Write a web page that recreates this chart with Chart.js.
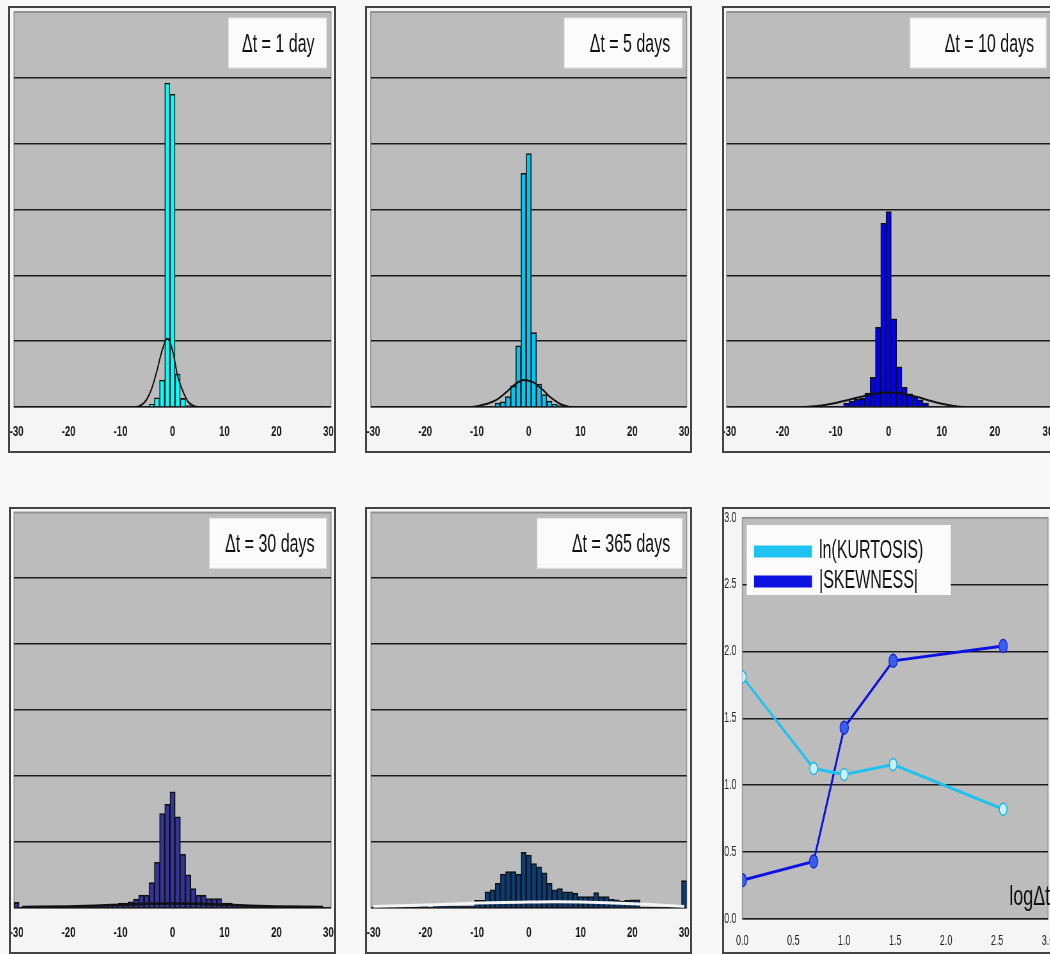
<!DOCTYPE html>
<html>
<head>
<meta charset="utf-8">
<script src="https://cdn.jsdelivr.net/npm/chart.js@4.4.1/dist/chart.umd.min.js"></script>
<style>
  html, body { margin: 0; padding: 0; width: 1050px; height: 954px; overflow: hidden; background: #f8f8f8; }
  .panel { position: absolute; box-sizing: border-box; border: 2px solid #444; background: #f5f5f5; overflow: hidden; }
  .panel canvas { position: absolute; left: 0; top: 0; transform-origin: 0 0; }
  #p1 { left: 8px; top: 6px; width: 328px; height: 447px; }
  #p2 { left: 365px; top: 6px; width: 327px; height: 447px; }
  #p3 { left: 722px; top: 6px; width: 340px; height: 447px; }
  #p4 { left: 9px; top: 507px; width: 327px; height: 447px; }
  #p5 { left: 365px; top: 507px; width: 327px; height: 447px; }
  #p6 { left: 722px; top: 507px; width: 340px; height: 447px; }
</style>
</head>
<body>
<div class="panel" id="p1"><canvas></canvas></div>
<div class="panel" id="p2"><canvas></canvas></div>
<div class="panel" id="p3"><canvas></canvas></div>
<div class="panel" id="p4"><canvas></canvas></div>
<div class="panel" id="p5"><canvas></canvas></div>
<div class="panel" id="p6"><canvas></canvas></div>
<script>
var FONT = "'Liberation Sans', Arial, sans-serif";
var SQUASH = 0.64; // the original plots are narrow, everything is drawn wide then squeezed

// histograms: bin centres (%), bar heights in grid divisions, fitted normal curve
var histTicks = [-30, -20, -10, 0, 10, 20, 30];
var gridSteps = [0, 1, 2, 3, 4, 5, 6];

var bins1 = [-4, -3, -2, -1, 0, 1, 2, 3];
var freq1 = [0.04, 0.14, 0.41, 4.92, 4.75, 0.50, 0.13, 0.02];
var fitX1 = [-29, -7, -6, -5, -4, -3, -2, -1, 0, 1, 2, 3, 4, 5, 29];
var fitY1 = [0, 0, 0.03, 0.11, 0.28, 0.55, 0.86, 1.04, 0.86, 0.47, 0.24, 0.08, 0.02, 0, 0];

var bins2 = [-6, -5, -4, -3, -2, -1, 0, 1, 2, 3, 4, 5, 6];
var freq2 = [0.06, 0.08, 0.16, 0.32, 0.93, 3.55, 3.85, 1.13, 0.35, 0.19, 0.09, 0.04, 0.02];
var fitX2 = [-29, -11, -10, -9, -8, -7, -6, -5, -4, -3, -2, -1, 0, 1, 2, 3, 4, 5, 6, 7, 8, 29];
var fitY2 = [0, 0, 0.01, 0.03, 0.05, 0.08, 0.12, 0.18, 0.25, 0.32, 0.38, 0.41, 0.40, 0.37, 0.31, 0.24, 0.16, 0.10, 0.05, 0.02, 0, 0];

var bins3 = [-8, -7, -6, -5, -4, -3, -2, -1, 0, 1, 2, 3, 4, 5, 6, 7];
var freq3 = [0.06, 0.09, 0.12, 0.13, 0.21, 0.45, 1.21, 2.79, 2.97, 1.34, 0.61, 0.30, 0.20, 0.16, 0.11, 0.06];
var fitX3 = [-29, -16, -14, -12, -10, -8, -6, -4, -2, 0, 2, 4, 6, 8, 10, 12, 14, 29];
var fitY3 = [0, 0, 0.01, 0.03, 0.06, 0.10, 0.14, 0.18, 0.21, 0.22, 0.21, 0.18, 0.14, 0.09, 0.05, 0.02, 0, 0];

var bins4 = [-30, -25, -24, -23, -22, -21, -20, -19, -18, -17, -16, -15, -14, -13, -12, -11,
             -10, -9, -8, -7, -6, -5, -4, -3, -2, -1, 0, 1, 2, 3, 4, 5, 6, 7, 8, 9,
             10, 11, 12, 13, 14, 15, 16, 17, 18];
var freq4 = [0.08, 0.01, 0.01, 0.01, 0.01, 0.01, 0.01, 0.01, 0.01, 0.015, 0.015, 0.02, 0.02, 0.03, 0.03, 0.04,
             0.07, 0.07, 0.09, 0.13, 0.19, 0.19, 0.38, 0.69, 1.43, 1.57, 1.76, 1.38, 0.81, 0.50, 0.29, 0.19, 0.19, 0.14, 0.14, 0.14,
             0.07, 0.07, 0.04, 0.04, 0.02, 0.02, 0.01, 0.01, 0.01];
var fitX4 = [-29, -20, -15, -10, -5, 0, 5, 10, 15, 20, 29];
var fitY4 = [0.01, 0.02, 0.03, 0.045, 0.06, 0.065, 0.06, 0.045, 0.03, 0.02, 0.01];

var bins5 = [-21, -20, -18, -17, -16, -15, -14, -13, -12, -11,
             -10, -9, -8, -7, -6, -5, -4, -3, -2, -1, 0, 1, 2, 3, 4, 5, 6, 7, 8, 9,
             10, 11, 12, 13, 14, 15, 16, 17, 18, 19, 20, 21, 30];
var freq5 = [0.03, 0.03, 0.03, 0.03, 0.02, 0.02, 0.02, 0.02, 0.02, 0.02,
             0.11, 0.11, 0.24, 0.27, 0.37, 0.51, 0.55, 0.55, 0.51, 0.84, 0.80, 0.67, 0.62, 0.53, 0.37, 0.27, 0.29, 0.24, 0.24, 0.22,
             0.17, 0.17, 0.17, 0.23, 0.17, 0.17, 0.13, 0.12, 0.10, 0.11, 0.12, 0.12, 0.41];
var fitX5 = [-30, -25, -20, -15, -10, -5, 0, 5, 10, 15, 20, 25, 30];
var fitY5 = [0.02, 0.03, 0.04, 0.055, 0.07, 0.08, 0.085, 0.09, 0.085, 0.075, 0.06, 0.04, 0.02];

// moments versus log(delta t)
var logDt = [0, 0.70, 1.0, 1.48, 2.56];
var lnKurtosis = [1.81, 1.125, 1.08, 1.155, 0.82];
var absSkewness = [0.29, 0.43, 1.43, 1.93, 2.04];
var momentTicks = [0, 0.5, 1, 1.5, 2, 2.5, 3];

Chart.defaults.font.family = FONT;

function pairs(xs, ys) {
    return xs.map(function (x, i) { return {x: x, y: ys[i]}; });
}

// size the canvas so that the plot area lands where it is in the picture
function fitCanvas(divId, plot) {
    var div = document.getElementById(divId);
    var r = div.getBoundingClientRect();
    var ox = r.left + div.clientLeft, oy = r.top + div.clientTop;
    var cw = Math.round(div.clientWidth / SQUASH), ch = div.clientHeight;
    var canvas = div.querySelector('canvas');
    canvas.width = cw;
    canvas.height = ch;
    canvas.style.width = cw + 'px';
    canvas.style.height = ch + 'px';
    canvas.style.transform = 'scaleX(' + SQUASH + ')';
    return {
        canvas: canvas,
        left: (plot[0] - ox) / SQUASH,
        right: cw - (plot[1] - ox) / SQUASH,
        top: plot[2] - oy,
        bottom: ch - (plot[3] - oy)
    };
}

var plotBackground = {
    id: 'plotBackground',
    beforeDraw: function (chart) {
        var a = chart.chartArea, ctx = chart.ctx;
        ctx.save();
        ctx.fillStyle = '#bcbcbc';
        ctx.fillRect(a.left, a.top, a.right - a.left, a.bottom - a.top);
        ctx.strokeStyle = '#8e8e8e';
        ctx.lineWidth = 1.5;
        ctx.strokeRect(a.left, a.top, a.right - a.left, a.bottom - a.top);
        ctx.restore();
    }
};

var panelTitle = {
    id: 'panelTitle',
    beforeDatasetsDraw: function (chart, args, opts) {
        var a = chart.chartArea, ctx = chart.ctx;
        var right = a.right - 4.5 / SQUASH, w = opts.width / SQUASH, top = a.top + 6;
        ctx.save();
        ctx.fillStyle = '#fbfbfb';
        ctx.fillRect(right - w, top, w, 50);
        ctx.strokeStyle = '#dedede';
        ctx.lineWidth = 1;
        ctx.strokeRect(right - w, top, w, 50);
        ctx.fillStyle = '#111';
        ctx.font = '25px ' + FONT;
        ctx.textAlign = 'right';
        ctx.textBaseline = 'middle';
        ctx.fillText(opts.text, right - 12 / SQUASH, top + 27);
        ctx.restore();
    }
};

function gridColor(top) {
    return function (c) { return c.tick.value === top ? '#909090' : '#1c1c1c'; };
}

function drawHist(divId, plot, bins, freq, fitX, fitY, color, fitColor, fitWidth, title, titleWidth) {
    var g = fitCanvas(divId, plot);
    new Chart(g.canvas, {
        type: 'bar',
        data: {
            datasets: [{
                type: 'line',
                data: pairs(fitX, fitY),
                borderColor: fitColor,
                borderWidth: fitWidth,
                pointRadius: 0,
                cubicInterpolationMode: 'monotone',
                order: 0
            }, {
                type: 'bar',
                data: pairs(bins, freq),
                backgroundColor: color,
                borderColor: '#111',
                borderWidth: 1.6,
                barPercentage: 1,
                categoryPercentage: 1,
                order: 1
            }]
        },
        options: {
            responsive: false,
            animation: false,
            events: [],
            layout: {padding: {left: g.left, right: g.right, top: g.top, bottom: 0}},
            plugins: {
                legend: {display: false},
                tooltip: {enabled: false},
                panelTitle: {text: title, width: titleWidth}
            },
            scales: {
                x: {
                    type: 'linear', min: -30.5, max: 30.5, offset: false,
                    afterBuildTicks: function (axis) { axis.ticks = histTicks.map(function (v) { return {value: v}; }); },
                    afterFit: function (axis) { axis.height = g.bottom; axis.paddingLeft = 0; axis.paddingRight = 0; },
                    grid: {display: false, offset: false},
                    border: {display: false},
                    ticks: {font: {size: 15, weight: 'bold'}, color: '#1a1a1a', padding: 8, maxRotation: 0, autoSkip: false}
                },
                y: {
                    min: 0, max: 6,
                    afterBuildTicks: function (axis) { axis.ticks = gridSteps.map(function (v) { return {value: v}; }); },
                    afterFit: function (axis) { axis.width = 0; axis.paddingTop = 0; axis.paddingBottom = 0; },
                    ticks: {display: false},
                    border: {display: false},
                    grid: {color: gridColor(6), lineWidth: 1.5, drawTicks: false}
                }
            }
        },
        plugins: [plotBackground, panelTitle]
    });
}

drawHist('p1', [14, 331, 12, 407], bins1, freq1, fitX1, fitY1, '#00ffff', '#111', 2, '\u0394t = 1 day', 98);
drawHist('p2', [370.7, 686.7, 12, 407], bins2, freq2, fitX2, fitY2, '#00c8f4', '#111', 2, '\u0394t = 5 days', 118);
drawHist('p3', [726.7, 1050.6, 12, 407], bins3, freq3, fitX3, fitY3, '#0000ff', '#111', 2, '\u0394t = 10 days', 136);
drawHist('p4', [14, 331, 512.3, 907.7], bins4, freq4, fitX4, fitY4, '#333399', '#111', 2.5, '\u0394t = 30 days', 117);
drawHist('p5', [371, 686.7, 512.3, 907.7], bins5, freq5, fitX5, fitY5, '#0b3c74', '#f4f4f4', 3, '\u0394t = 365 days', 145);

// moments panel
var legendBox = {
    id: 'legendBox',
    afterLayout: function (chart, args, opts) {
        chart.legend.left += opts.shiftX;
        chart.legend.right += opts.shiftX;
        chart.legend.top += opts.shiftY;
        chart.legend.bottom += opts.shiftY;
    },
    beforeDatasetsDraw: function (chart, args, opts) {
        var a = chart.chartArea, ctx = chart.ctx;
        ctx.save();
        ctx.fillStyle = '#fbfbfb';
        ctx.fillRect(a.left + opts.x, a.top + opts.y, opts.w, opts.h);
        ctx.restore();
        chart.legend.draw();
    }
};

var axisNote = {
    id: 'axisNote',
    afterDatasetsDraw: function (chart, args, opts) {
        var ctx = chart.ctx;
        ctx.save();
        ctx.fillStyle = '#111';
        ctx.font = '28px ' + FONT;
        ctx.textAlign = 'left';
        ctx.textBaseline = 'middle';
        ctx.fillText(opts.text, chart.scales.x.getPixelForValue(opts.x), chart.scales.y.getPixelForValue(opts.y));
        ctx.restore();
    }
};

var g6 = fitCanvas('p6', [742.3, 1048, 517.7, 919]);
new Chart(g6.canvas, {
    type: 'line',
    data: {
        datasets: [{
            label: 'ln(KURTOSIS)',
            data: pairs(logDt, lnKurtosis),
            borderColor: '#1ec2f0',
            backgroundColor: '#1ec2f0',
            borderWidth: 3,
            pointRadius: 6,
            pointBackgroundColor: '#c8f1ff',
            pointBorderColor: '#1ab4e6',
            pointBorderWidth: 1.5
        }, {
            label: '|SKEWNESS|',
            data: pairs(logDt, absSkewness),
            borderColor: '#0c12e2',
            backgroundColor: '#0c12e2',
            borderWidth: 3,
            pointRadius: 6.5,
            pointBackgroundColor: '#3a5ff0',
            pointBorderColor: '#1a2ad2',
            pointBorderWidth: 1.5
        }]
    },
    options: {
        responsive: false,
        animation: false,
        events: [],
        layout: {padding: {left: 0, right: g6.right, top: g6.top, bottom: 0}},
        plugins: {
            tooltip: {enabled: false},
            legend: {
                position: 'chartArea',
                align: 'start',
                labels: {boxWidth: 56 / SQUASH, boxHeight: 9, padding: 5, color: '#111', font: {size: 25}}
            },
            legendBox: {shiftX: 14.8, shiftY: 25, x: 6.9, y: 7.3, w: 204 / SQUASH, h: 70},
            axisNote: {text: 'log\u0394t', x: 2.62, y: 0.166}
        },
        scales: {
            x: {
                type: 'linear', min: 0, max: 3,
                afterBuildTicks: function (axis) { axis.ticks = momentTicks.map(function (v) { return {value: v}; }); },
                afterFit: function (axis) { axis.height = g6.bottom; axis.paddingLeft = 0; axis.paddingRight = 0; },
                grid: {display: false},
                border: {display: false},
                ticks: {font: {size: 14}, color: '#222', padding: 6, maxRotation: 0, autoSkip: false,
                        callback: function (v) { return v.toFixed(1); }}
            },
            y: {
                min: 0, max: 3,
                afterBuildTicks: function (axis) { axis.ticks = momentTicks.map(function (v) { return {value: v}; }); },
                afterFit: function (axis) { axis.width = g6.left; axis.paddingTop = 0; axis.paddingBottom = 0; },
                border: {display: false},
                grid: {color: gridColor(3), lineWidth: 1.5, drawTicks: false},
                ticks: {font: {size: 14}, color: '#222', padding: 9,
                        callback: function (v) { return v.toFixed(1); }}
            }
        }
    },
    plugins: [plotBackground, legendBox, axisNote]
});
</script>
</body>
</html>
